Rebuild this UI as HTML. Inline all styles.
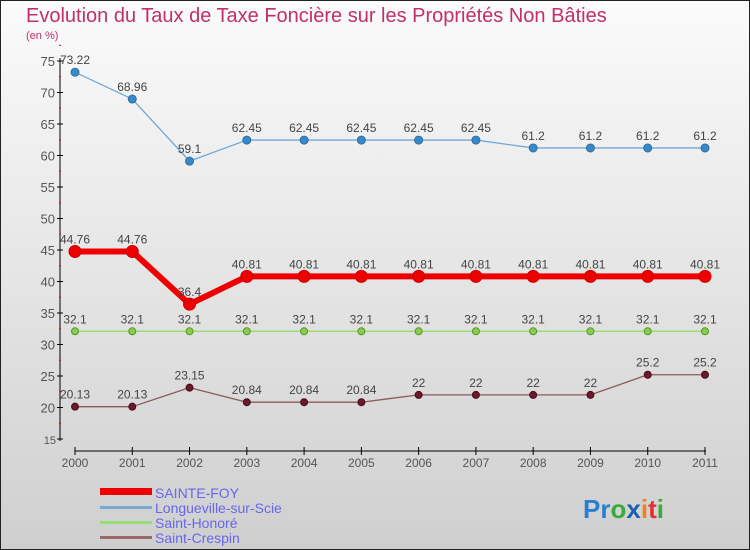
<!DOCTYPE html>
<html><head><meta charset="utf-8"><style>
body{margin:0;}
#c{width:750px;height:550px;position:relative;overflow:hidden;}
</style></head><body>
<div id="c">
<svg id="s" width="750" height="550" xmlns="http://www.w3.org/2000/svg" font-family="Liberation Sans, sans-serif">
<defs><linearGradient id="bg" x1="0" y1="0" x2="0" y2="1"><stop offset="0" stop-color="#fbfbfb"/><stop offset="1" stop-color="#cfcfcf"/></linearGradient></defs>
<rect x="0.5" y="0.5" width="749" height="549" fill="url(#bg)" stroke="#222"/>
<text x="26" y="22" font-size="20" fill="#c0306a">Evolution du Taux de Taxe Foncière sur les Propriétés Non Bâties</text>
<text x="26" y="39" font-size="11" fill="#c0306a">(en %)</text>
<g id="axes"></g><g id="series"></g>
<g>
<rect x="100" y="488" width="52" height="7" fill="#e00"/>
<text x="155" y="498" font-size="14" fill="#6666ee">SAINTE-FOY</text>
<rect x="100" y="506" width="52" height="3" fill="#7aaad0"/>
<text x="155" y="513" font-size="14" fill="#6666ee">Longueville-sur-Scie</text>
<rect x="100" y="521" width="52" height="3" fill="#99dd77"/>
<text x="155" y="528" font-size="14" fill="#6666ee">Saint-Honoré</text>
<rect x="100" y="536" width="52" height="3" fill="#9a6a6a"/>
<text x="155" y="543" font-size="14" fill="#6666ee">Saint-Crespin</text>
</g>
<text x="583" y="518" font-size="26" font-weight="bold"><tspan fill="#2a7fd0">Pr</tspan><tspan fill="#3aaa3a">o</tspan><tspan fill="#1a5fb0">x</tspan><tspan fill="#f08020">i</tspan><tspan fill="#e03030">t</tspan><tspan fill="#3aaa3a">i</tspan></text>
</svg></div>
<script>
const years=[2000,2001,2002,2003,2004,2005,2006,2007,2008,2009,2010,2011];
const yTicks=[15,20,25,30,35,40,45,50,55,60,65,70,75];
const sainteFoy=[44.76,44.76,36.4,40.81,40.81,40.81,40.81,40.81,40.81,40.81,40.81,40.81];
const longueville=[73.22,68.96,59.1,62.45,62.45,62.45,62.45,62.45,61.2,61.2,61.2,61.2];
const saintHonore=[32.1,32.1,32.1,32.1,32.1,32.1,32.1,32.1,32.1,32.1,32.1,32.1];
const saintCrespin=[20.13,20.13,23.15,20.84,20.84,20.84,22,22,22,22,25.2,25.2];
const NS='http://www.w3.org/2000/svg';
const xs=i=>75+i*(630/(years.length-1));
const ys=v=>61+(75-v)*6.3;
function mk(t,a,p){const e=document.createElementNS(NS,t);for(const k in a)e.setAttribute(k,a[k]);p.appendChild(e);return e;}
const ax=document.getElementById('axes');
let l=mk('line',{x1:60,y1:58,x2:60,y2:441,stroke:'#000'},ax);


yTicks.forEach(v=>{
 mk('line',{x1:57,x2:63,y1:ys(v),y2:ys(v),stroke:'#000'},ax);
 mk('line',{x1:59,x2:61,y1:ys(v+2.5),y2:ys(v+2.5),stroke:'#e00'},ax);
 const t=mk('text',{x:v===15?56:55,y:ys(v)+5,'font-size':v===15?11:13,fill:'#555','text-anchor':'end'},ax);
 t.textContent=v;
 
 
});
l=mk('line',{x1:75,y1:451,x2:706,y2:451,stroke:'#000'},ax);


years.forEach((y,i)=>{
 mk('line',{x1:xs(i),x2:xs(i),y1:447,y2:455,stroke:'#000'},ax);
 const t=mk('text',{x:xs(i),y:467,'font-size':12,fill:'#555','text-anchor':'middle'},ax);
 t.textContent=y;
 
 
});
const sg=document.getElementById('series');
function series(name,data,color,w,r,dot,dotStroke){
 const g=mk('g',{},sg);
 
 
 const p=mk('polyline',{points:data.map((v,i)=>xs(i)+','+ys(v)).join(' '),fill:'none',stroke:color,'stroke-width':w,'stroke-linejoin':'round'},g);
 
 
 data.forEach((v,i)=>{
  const c=mk('circle',{cx:xs(i),cy:ys(v),r:r,fill:dot,stroke:dotStroke,'stroke-width':1},g);
  
  
  const t=mk('text',{x:xs(i),y:ys(v)-8,'font-size':12,fill:'#444','text-anchor':'middle'},g);
  t.textContent=v;
  
  
 });
}
series('longueville',longueville,'#6fa8d8',1.3,4,'#3a88c8','#2a70a8');
series('saint-honore',saintHonore,'#99dd77',1.5,3.5,'#88cc55','#559922');
series('saint-crespin',saintCrespin,'#8a5a5a',1.3,3.5,'#6a1a2a','#4a0a1a');
series('sainte-foy',sainteFoy,'#ee0000',6,6,'#ee0000','#cc0000');
</script>
</body></html>
